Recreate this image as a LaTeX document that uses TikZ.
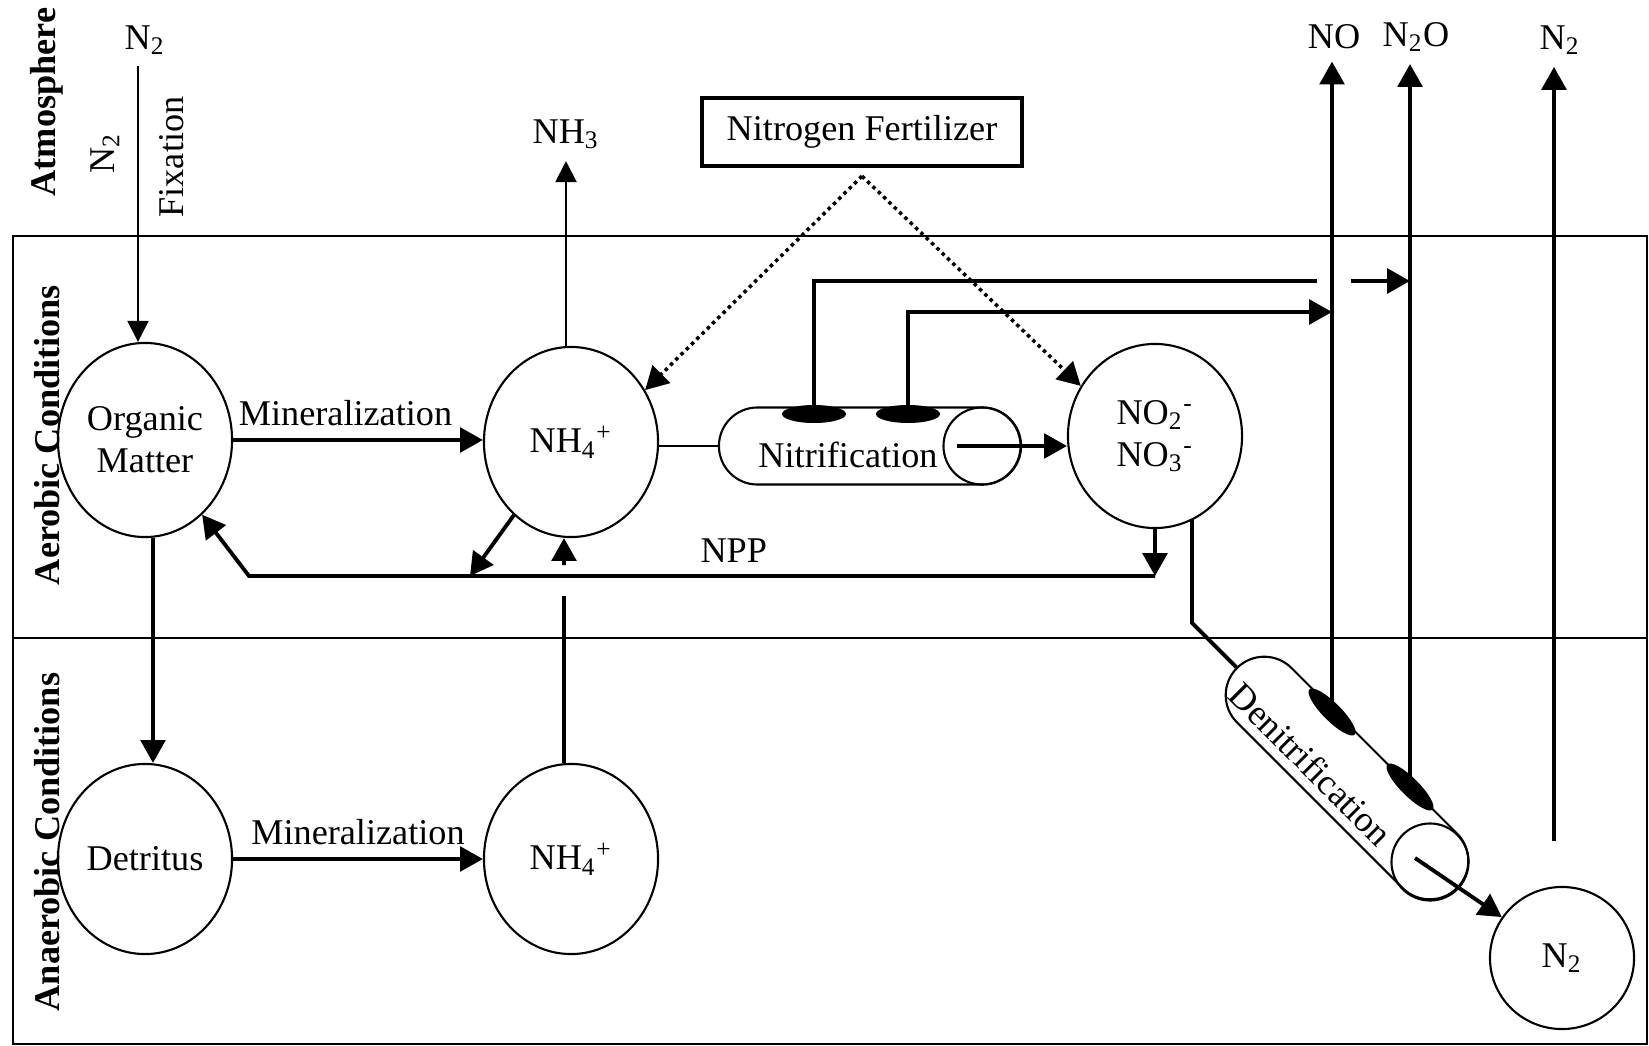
\documentclass[tikz,border=0pt]{standalone}
\usepackage{fontspec}
\setmainfont{Liberation Serif}
\usetikzlibrary{arrows.meta,shapes.geometric,shapes.misc}

\newcommand{\labelsize}{\fontsize{10.3}{12}\selectfont}

\tikzset{
  pool/.style={draw, ellipse, line width=0.6pt, inner sep=0pt, align=center,
    minimum width=1.74cm, minimum height=1.9cm},
  tube/.style={draw, rounded rectangle, line width=0.6pt, inner sep=0pt,
    minimum height=0.77cm},
  tubecap/.style={draw, circle, line width=0.6pt, inner sep=0pt, minimum size=0.77cm},
  enzyme/.style={fill=black, ellipse, inner sep=0pt, minimum width=0.64cm, minimum height=0.18cm},
  zone/.style={font=\labelsize\bfseries, rotate=90},
  flow/.style={line width=1.1pt, -{Triangle[length=6.5pt,width=7pt]}},
  link/.style={line width=1.1pt},
  thinflow/.style={line width=0.6pt, -{Triangle[length=6pt,width=6pt]}},
  feed/.style={line width=1pt, dash pattern=on 1pt off 1.1pt, -{Triangle[length=6.5pt,width=7pt]}},
}

\begin{document}
\begin{tikzpicture}[x=0.01cm, y=-0.01cm, font=\labelsize]
\useasboundingbox (0,0) rectangle (1649,1046);

% soil layers
\draw[line width=0.6pt] (13,236) rectangle (1647,1044);
\draw[line width=0.6pt] (13,638) -- (1647,638);
\node[zone] (atm) at (47,102) {Atmosphere};
\node[zone] (aer) at (47,435) {Aerobic Conditions};
\node[zone] (anaer) at (47,842) {Anaerobic Conditions};

% pools
\node[pool, minimum height=1.94cm] (org) at (145,440) {Organic\\Matter};
\node[pool] (nhup) at (571,442) {NH\textsubscript{4}\textsuperscript{+}};
\node[pool, minimum height=1.84cm] (nox) at (1155,436) {NO\textsubscript{2}\textsuperscript{-}\\NO\textsubscript{3}\textsuperscript{-}};
\node[pool] (det) at (145,859) {Detritus};
\node[pool] (nhlow) at (571,859) {NH\textsubscript{4}\textsuperscript{+}};
\node[pool, minimum width=1.44cm, minimum height=1.42cm] (ntwo) at (1562,958) {N\textsubscript{2}};
\node[draw, line width=1.2pt, minimum width=3.2cm, minimum height=0.68cm] (fert) at (862,132) {Nitrogen Fertilizer};

% gases
\node (fixgas) at (145,40) {N\textsubscript{2}};
\node (nhthree) at (566,134) {NH\textsubscript{3}};
\node (nogas) at (1334,37) {NO};
\node (ntwoogas) at (1416,37) {N\textsubscript{2}O};
\node (ntwogas) at (1560,40) {N\textsubscript{2}};
\node[rotate=90] (fixa) at (105,153) {N\textsubscript{2}};
\node[rotate=90] (fixb) at (172,157) {Fixation};

% nitrification
\node[tube, minimum width=3.02cm] (nit) at (870,446) {};
\node[tubecap] (nitcap) at (982,446) {};
\node (nitlab) at (848,455) {Nitrification};
\node[enzyme] (nitA) at (814,414) {};
\node[enzyme] (nitB) at (908,414) {};

% denitrification
\node[tube, minimum width=3.11cm, rotate=-45] (den) at (1347,778) {};
\node[tubecap] (dencap) at (1430,862) {};
\node[rotate=-45] (denlab) at (1311,764) {Denitrification};
\node[enzyme, rotate=-45] (denA) at (1332,712) {};
\node[enzyme, rotate=-45] (denB) at (1410,787) {};

\coordinate (fixtop) at (138,66);
\coordinate (nppjoin) at (470,576);
\coordinate (nppend) at (249,576);
\coordinate (gapL) at (1317,281);
\coordinate (gapR) at (1351,281);
\coordinate (nitBbend) at (908,312);
\coordinate (denbend) at (1192,623);
\coordinate (ntwofoot) at (1554,841);

% fluxes
\draw[thinflow] (fixtop) -- (fixtop |- org.north);
\draw[flow] (org.east) -- node[above, pos=0.45] (minup) {Mineralization} (org.east -| nhup.west);
\draw[flow] (det.east) -- node[above] (minlow) {Mineralization} (det.east -| nhlow.west);
\draw[flow] ([xshift=0.08cm]org.south) -- ([xshift=0.08cm]det.north);
\draw[thinflow] (nhup.north -| nhthree) -- (nhthree.south);
\draw[line width=0.6pt] (nit.west -| nhup.east) -- (nit.west);
\draw[flow] ([xshift=-0.25cm]nitcap.center) -- (nitcap.center -| nox.west);
\draw[feed] ([yshift=-0.08cm]fert.south) -- (nhup.35);
\draw[feed] ([yshift=-0.08cm]fert.south) -- (nox.146);

\draw[link] (nitA.center) |- (gapL);
\draw[flow] (gapR) -- (gapR -| denB);
\draw[flow] (nitB.center) |- (nitBbend -| denA);
\draw[flow] (denA.center) -- (denA.center |- nogas.south);
\draw[flow] (denB.center) -- (denB.center |- ntwoogas.south);
\draw[flow] (ntwofoot) -- (ntwofoot |- ntwogas.south);

\draw[flow] (nox.south) -- (nox.south |- nppend);
\draw[flow] (nox.south |- nppend) -- node[above, pos=0.465] (npp) {NPP} (nppend) -- (org);
\draw[flow] (nhup.232) -- (nppjoin);
\draw[flow] ([shift={(-7,27)}]nhup.south) -- ([xshift=-0.07cm]nhup.south);
\draw[link] ([xshift=-0.07cm]nhlow.north) -- ([shift={(-7,58)}]nhup.south);
\draw[link] (nox.-65 -| denbend) -- (denbend) -- (den.west);
\draw[flow] ([shift={(-15,-4)}]dencap.center) -- (ntwo);
\end{tikzpicture}
\end{document}
